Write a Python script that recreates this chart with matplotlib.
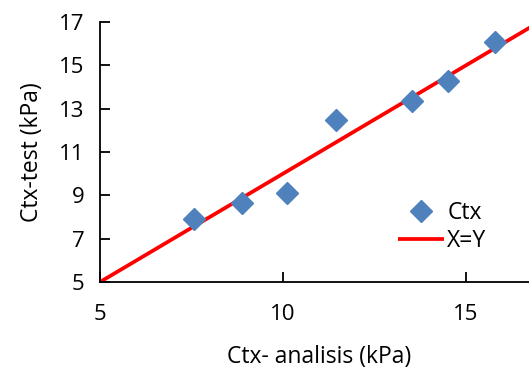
import matplotlib.pyplot as plt

plt.rcParams['font.family'] = ['Open Sans', 'DejaVu Sans']

# Data
ctx_analisis = [7.57, 8.88, 10.12, 11.46, 13.52, 14.5, 15.8]
ctx_test = [7.93, 8.65, 9.12, 12.47, 13.35, 14.3, 16.1]
xy_line = [5, 17]

fig = plt.figure(figsize=(5.29, 3.72), dpi=100)
ax = fig.add_axes([100 / 529, 90 / 372, 12 * 36.6 / 529, 260 / 372])

ax.plot(ctx_analisis, ctx_test, linestyle='none', marker='D', markersize=11,
        color='#4F81BD', label='Ctx', zorder=3)
ax.plot(xy_line, xy_line, color='#FF0000', linewidth=2.7, label='X=Y',
        solid_capstyle='butt', zorder=2)

ax.set_xlim(5, 17)
ax.set_ylim(5, 17)
ax.set_xticks([5, 10, 15])
ax.set_yticks(range(5, 18, 2))
ax.spines['top'].set_visible(False)
ax.spines['right'].set_visible(False)
for s in ['left', 'bottom']:
    ax.spines[s].set_linewidth(1.3)
ax.tick_params(axis='both', direction='in', length=7, width=1.3, labelsize=16)
ax.tick_params(axis='x', pad=16)
ax.tick_params(axis='y', pad=11)

ax.set_xlabel('Ctx- analisis (kPa)', fontsize=16.5, labelpad=14)
ax.set_ylabel('Ctx-test (kPa)', fontsize=16.5, labelpad=11)

fig.legend(loc='center left', bbox_to_anchor=(0.735, 0.39), frameon=False,
           fontsize=16.5, handlelength=2.0, handletextpad=0.15, labelspacing=0.2,
           borderaxespad=0)

fig.savefig('out.png', dpi=100)
